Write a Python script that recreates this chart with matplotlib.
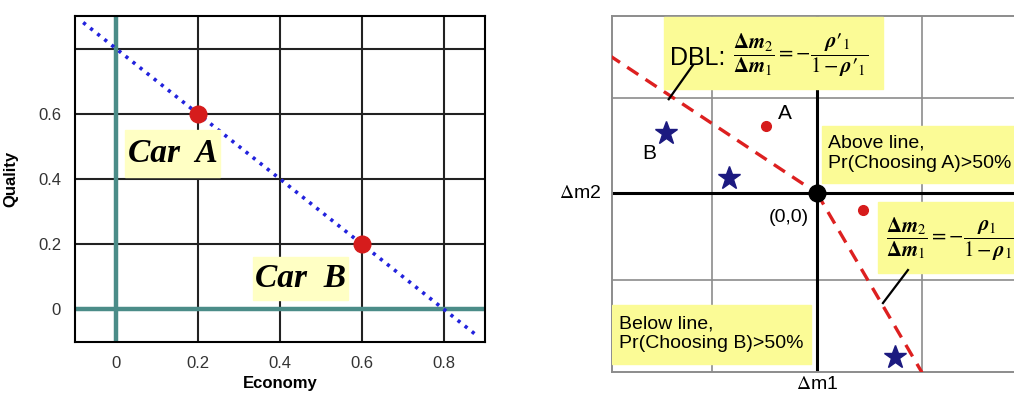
import matplotlib
matplotlib.use("Agg")
import matplotlib.pyplot as plt
from matplotlib.patches import Rectangle

plt.rcParams['font.family'] = ['Liberation Sans', 'DejaVu Sans']
plt.rcParams['mathtext.fontset'] = 'stix'

# left chart: two cars on the budget line
econ = [0.2, 0.6]
quality = [0.6, 0.2]
car_names = ['Car A', 'Car B']
line_x = [-0.08, 0.88]
line_y = [0.88, -0.08]
left_ticks_x = [0, 0.2, 0.4, 0.6, 0.8]
left_ticks_y = [0, 0.2, 0.4, 0.6]

# right chart: decision boundary line (DBL)
dbl_up_x = [-1.98, 0.0]
dbl_up_y = [1.5, 0.0]
dbl_low_x = [0.0, 1.0]
dbl_low_y = [0.0, -1.95]
dots_x = [-0.48, 0.44]
dots_y = [0.73, -0.18]
stars_x = [-1.44, -0.84, 0.74]
stars_y = [0.65, 0.16, -1.78]

YELLOW = '#fbfb96'
PALE = '#ffffc4'

fig = plt.figure(figsize=(10.14, 3.93), dpi=100)

# ---------- left panel ----------
ax = fig.add_axes([75 / 1014, 51 / 393, 410 / 1014, 326 / 393])
ax.set_xlim(-0.1, 0.9)
ax.set_ylim(-0.1, 0.9)
for v in [0, 0.2, 0.4, 0.6, 0.8]:
    ax.axvline(v, color='#222222', lw=1.5, zorder=1)
    ax.axhline(v, color='#222222', lw=1.5, zorder=1)
ax.axvline(0, color='#4b8c88', lw=3.2, zorder=2)
ax.axhline(0, color='#4b8c88', lw=3.2, zorder=2)
ax.plot(line_x, line_y, color='#2222dd', lw=2.6, ls=(0, (0.9, 1.6)), zorder=3)
ax.plot(econ, quality, 'o', color='#d61c1c', ms=12, zorder=4)

# label boxes for the cars
car_boxes = [(0.022, 0.406, 0.232, 0.145), (0.334, 0.028, 0.232, 0.132)]
car_text = [(0.138, 0.478), (0.45, 0.094)]
for (bx, by, bw, bh), (tx, ty), name in zip(car_boxes, car_text, car_names):
    ax.add_patch(Rectangle((bx, by), bw, bh, color=PALE, zorder=5))
    ax.text(tx, ty, name.replace(' ', '  '), ha='center', va='center', fontsize=24,
            family='Liberation Serif', style='italic', fontweight='bold', zorder=6)

ax.set_xticks(left_ticks_x)
ax.set_xticklabels(['0', '0.2', '0.4', '0.6', '0.8'])
ax.set_yticks(left_ticks_y)
ax.set_yticklabels(['0', '0.2', '0.4', '0.6'])
ax.tick_params(length=0, labelsize=12, labelcolor='#333333', pad=10)
ax.set_xlabel('Economy', fontsize=12, fontweight='bold', labelpad=4)
ax.set_ylabel('Quality', fontsize=12, fontweight='bold', labelpad=14)
for s in ax.spines.values():
    s.set_linewidth(1.5)
    s.set_zorder(7)

# ---------- right panel ----------
bx = fig.add_axes([612 / 1014, 21.5 / 393, 425.5 / 1014, 356 / 393])
bx.set_xlim(-1.95, 2.1)
bx.set_ylim(-1.94, 1.93)
bx.set_xticks([])
bx.set_yticks([])
for v in [-1, 1]:
    bx.axvline(v, color='#8c8c8c', lw=1.2, zorder=1)
for v in [-0.95, 1.03]:
    bx.axhline(v, color='#8c8c8c', lw=1.2, zorder=1)
for s in bx.spines.values():
    s.set_color('#8c8c8c')
    s.set_linewidth(1.4)
bx.spines['right'].set_visible(False)

bx.axvline(0, color='black', lw=2.2, zorder=2)
bx.plot([-1.95, 2.1], [0, 0], color='black', lw=2.2, zorder=2)
bx.plot(dbl_up_x, dbl_up_y, color='#dd2020', lw=2.4, ls=(0, (4, 2.6)), zorder=3)
bx.plot(dbl_low_x, dbl_low_y, color='#dd2020', lw=2.4, ls=(0, (4, 2.6)), zorder=3)
bx.plot(dots_x, dots_y, 'o', color='#d61c1c', ms=7, zorder=4)
bx.plot(stars_x, stars_y, '*', color='#1c1a80', ms=17, zorder=4)
bx.plot([0], [0], 'o', color='black', ms=12, zorder=4)

# yellow notes
boxes = [(-1.457, 1.13, 2.086, 0.783),
         (0.048, 0.109, 2.1, 0.619),
         (0.581, -0.87, 1.6, 0.772),
         (-1.952, -1.859, 1.895, 0.642)]
for x0, y0, w, h in boxes:
    bx.add_patch(Rectangle((x0, y0), w, h, color=YELLOW, zorder=5))

frac1 = (r'$\dfrac{\mathbf{\Delta} \boldsymbol{m}_2}{\mathbf{\Delta} \boldsymbol{m}_1}'
         r'=-\dfrac{\boldsymbol{\rho}\mathbf{\prime}_1}{1-\boldsymbol{\rho}\mathbf{\prime}_1}$')
frac2 = (r'$\dfrac{\mathbf{\Delta} \boldsymbol{m}_2}{\mathbf{\Delta} \boldsymbol{m}_1}'
         r'=-\dfrac{\boldsymbol{\rho}_1}{1-\boldsymbol{\rho}_1}$')

bx.text(-1.40, 1.47, 'DBL:', fontsize=18, va='center', zorder=6)
bx.text(-0.80, 1.5, frac1, fontsize=15, va='center', zorder=6)
bx.text(0.105, 0.43, 'Above line,\nPr(Choosing A)>50%', fontsize=14, va='center',
        linespacing=1.25, zorder=6)
bx.text(0.66, -0.50, frac2, fontsize=15, va='center', zorder=6)
bx.text(-1.886, -1.53, 'Below line,\nPr(Choosing B)>50%', fontsize=14, va='center',
        linespacing=1.25, zorder=6)

bx.plot([-1.18, -1.41], [1.39, 1.02], color='black', lw=1.6, zorder=6)
bx.plot([0.867, 0.629], [-0.837, -1.196], color='black', lw=1.6, zorder=6)

bx.text(-0.30, 0.87, 'A', fontsize=15, ha='center', va='center', zorder=6)
bx.text(-1.60, 0.43, 'B', fontsize=15, ha='center', va='center', zorder=6)
bx.text(-0.27, -0.27, '(0,0)', fontsize=14, ha='center', va='center', zorder=6)
bx.text(-2.05, 0.0, r'$\Delta$m2', fontsize=14, ha='right', va='center',
        family='Liberation Sans', clip_on=False)
bx.text(0.0, -2.08, r'$\Delta$m1', fontsize=14, ha='center', va='center', clip_on=False)

fig.savefig('out.png', dpi=100)
